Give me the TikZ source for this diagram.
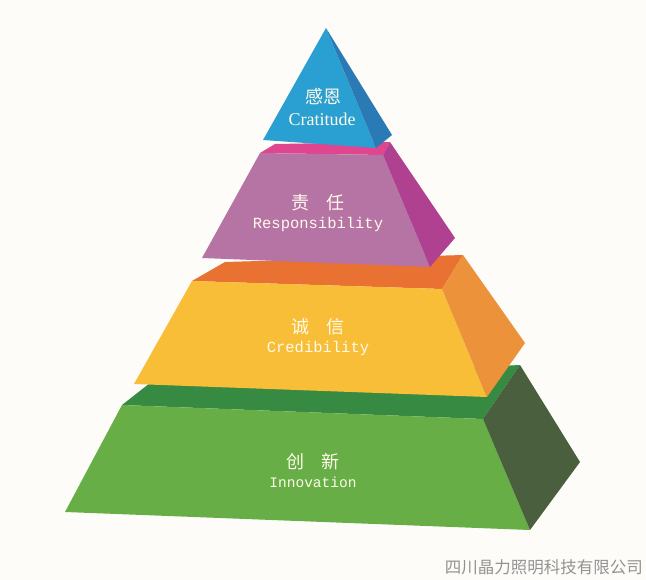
\documentclass[tikz,border=0pt]{standalone}
\usepackage{fontspec}
\setmainfont{Liberation Serif}
\setmonofont{Liberation Mono}
\newfontfamily\cjk{Noto Sans CJK SC}
\usetikzlibrary{positioning}
\definecolor{pagebg}{RGB}{253,252,248}
\definecolor{bluefront}{RGB}{42,160,210}
\definecolor{blueside}{RGB}{42,122,181}
\definecolor{pinktop}{RGB}{224,69,143}
\definecolor{pinkfront}{RGB}{181,116,164}
\definecolor{pinkside}{RGB}{176,64,144}
\definecolor{orangetop}{RGB}{233,113,49}
\definecolor{yellowfront}{RGB}{248,190,55}
\definecolor{orangeside}{RGB}{235,146,58}
\definecolor{greentop}{RGB}{55,138,66}
\definecolor{greenfront}{RGB}{102,174,69}
\definecolor{greenside}{RGB}{74,95,61}
\definecolor{labeltext}{RGB}{255,250,236}
\tikzset{
    face/.style={fill=#1, draw=none},
    cnlabel/.style={text=labeltext, font=\cjk\fontsize{18bp}{20bp}\selectfont, inner sep=0pt},
    enlabel/.style={text=labeltext, font=\ttfamily\fontsize{15.5bp}{18bp}\selectfont, inner sep=0pt},
    toplabel/.style={text=labeltext, font=\rmfamily\fontsize{18bp}{20bp}\selectfont, inner sep=0pt},
    company/.style={text=gray!85, font=\cjk\fontsize{16.5bp}{18bp}\selectfont, inner sep=0pt, anchor=east}
}
\begin{document}
\begin{tikzpicture}[x=1bp, y=-1bp]
    \useasboundingbox (0,0) rectangle (646,580);
    \fill[pagebg] (0,0) rectangle (646,580);

    % Innovation
    \fill[face=greentop] (122,405) -- (150,383) -- (520,365) -- (483,419) -- cycle;
    \fill[face=greenfront] (122,405) -- (483,419) -- (530,530) -- (65,512) -- cycle;
    \fill[face=greenside] (483,419) -- (520,365) -- (580,462) -- (530,530) -- cycle;

    % Credibility
    \fill[face=orangetop] (192,281) -- (225,262) -- (463,255) -- (442,289) -- cycle;
    \fill[face=yellowfront] (192,281) -- (442,289) -- (487,397) -- (134,384) -- cycle;
    \fill[face=orangeside] (442,289) -- (463,255) -- (525,343) -- (487,397) -- cycle;

    % Responsibility
    \fill[face=pinktop] (260,153) -- (275,144) -- (390,142) -- (383,155) -- cycle;
    \fill[face=pinkfront] (260,153) -- (383,155) -- (430,267) -- (202,258) -- cycle;
    \fill[face=pinkside] (383,155) -- (390,142) -- (455,238) -- (430,267) -- cycle;

    % Cratitude
    \fill[face=bluefront] (326,28) -- (376,148) -- (263,140) -- cycle;
    \fill[face=blueside] (326,28) -- (392,135) -- (376,148) -- cycle;

    \node[cnlabel] (grat_cn) at (323,97) {感恩};
    \node[toplabel] (grat_en) at (322,119) {Cratitude};
    \node[cnlabel] (resp_cn) at (318,203) {责\hspace{0.95em}任};
    \node[enlabel] (resp_en) at (318,224) {Responsibility};
    \node[cnlabel] (cred_cn) at (318,327) {诚\hspace{0.9em}信};
    \node[enlabel] (cred_en) at (318,348) {Credibility};
    \node[cnlabel] (inno_cn) at (313,462) {创\hspace{0.9em}新};
    \node[enlabel, font=\ttfamily\fontsize{14.5bp}{17bp}\selectfont] (inno_en) at (313,482) {Innovation};

    \node[company] (firm) at (643,567) {四川晶力照明科技有限公司};
\end{tikzpicture}
\end{document}
